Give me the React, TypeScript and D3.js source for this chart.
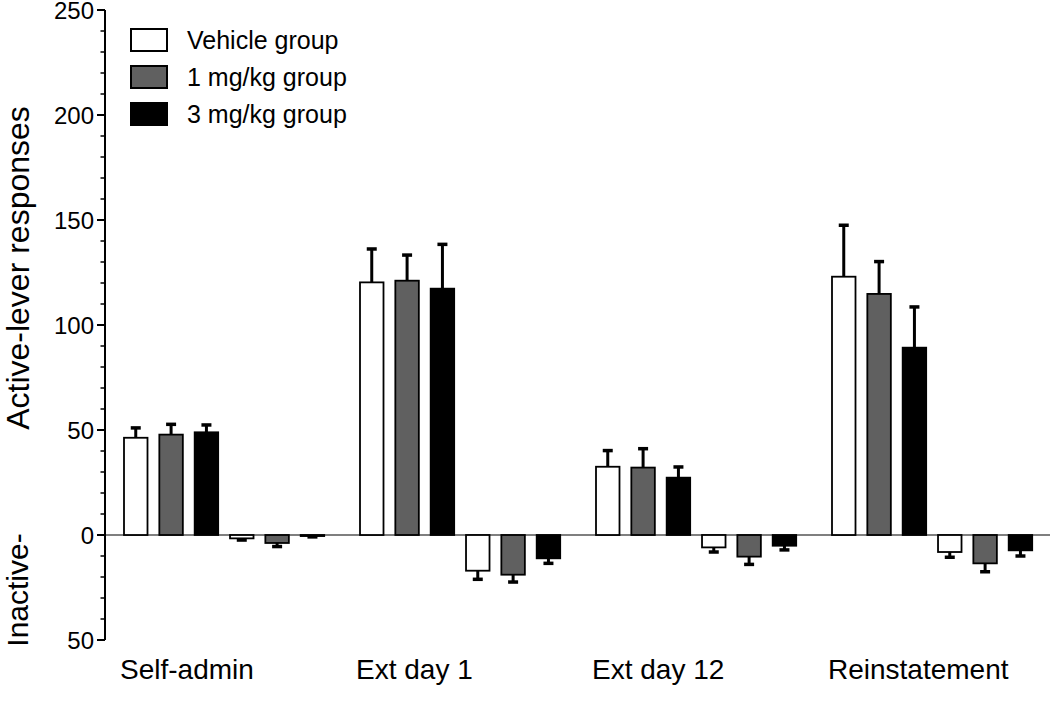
import React from "react";
import * as d3 from "d3";

const categories = ["Self-admin", "Ext day 1", "Ext day 12", "Reinstatement"];
const groupNames = ["Vehicle group", "1 mg/kg group", "3 mg/kg group"];
const groupFills = ["#ffffff", "#606060", "#000000"];

// Active-lever responses (mean, SEM)
const vehicleActive = [46.3, 120.3, 32.5, 123.0];
const vehicleActiveSem = [4.7, 15.9, 7.7, 24.5];
const mg1Active = [47.8, 121.1, 32.1, 114.8];
const mg1ActiveSem = [4.9, 12.2, 9.0, 15.4];
const mg3Active = [48.9, 117.3, 27.3, 89.2];
const mg3ActiveSem = [3.5, 21.1, 5.1, 19.4];

// Inactive-lever responses (mean, SEM) — plotted downward
const vehicleInactive = [1.6, 17.0, 5.9, 8.1];
const vehicleInactiveSem = [0.8, 4.1, 2.2, 2.5];
const mg1Inactive = [3.8, 18.9, 10.3, 13.5];
const mg1InactiveSem = [1.7, 3.5, 3.7, 4.0];
const mg3Inactive = [0.5, 11.1, 5.1, 7.3];
const mg3InactiveSem = [0.4, 2.4, 2.0, 2.7];

const majorTicks = [-50, 0, 50, 100, 150, 200, 250];
const tickLabels = ["50", "0", "50", "100", "150", "200", "250"];

const W = 1050;
const H = 715;
const FONT = "'Liberation Sans', Arial, Helvetica, sans-serif";

export default function App() {
  const y = d3.scaleLinear().domain([-50, 250]).range([640, 10]);
  const x = d3
    .scaleBand<string>()
    .domain(categories)
    .range([124, 1032.2])
    .paddingInner(0.1517)
    .paddingOuter(0);
  const inner = d3
    .scaleBand<number>()
    .domain([0, 1, 2, 3, 4, 5])
    .range([0, x.bandwidth()])
    .paddingInner(0.335)
    .paddingOuter(0);

  const activeVals = [vehicleActive, mg1Active, mg3Active];
  const activeSems = [vehicleActiveSem, mg1ActiveSem, mg3ActiveSem];
  const inactiveVals = [vehicleInactive, mg1Inactive, mg3Inactive];
  const inactiveSems = [vehicleInactiveSem, mg1InactiveSem, mg3InactiveSem];

  type Bar = { x: number; w: number; v: number; sem: number; fill: string; key: string };
  const bars: Bar[] = [];
  categories.forEach((c, ci) => {
    for (let g = 0; g < 3; g++) {
      bars.push({
        key: `a-${ci}-${g}`,
        x: (x(c) as number) + (inner(g) as number),
        w: inner.bandwidth(),
        v: activeVals[g][ci],
        sem: activeSems[g][ci],
        fill: groupFills[g],
      });
      bars.push({
        key: `i-${ci}-${g}`,
        x: (x(c) as number) + (inner(g + 3) as number),
        w: inner.bandwidth(),
        v: -inactiveVals[g][ci],
        sem: -inactiveSems[g][ci],
        fill: groupFills[g],
      });
    }
  });

  const minorTicks = d3.range(-50, 251, 10).filter((t) => t % 50 !== 0);
  const axisX = 105;
  const y0 = y(0);

  return (
    <svg
      width={W}
      height={H}
      style={{ position: "absolute", left: 0, top: 0, display: "block", background: "#fff" }}
      fontFamily={FONT}
    >
      {/* zero line */}
      <line x1={axisX} x2={W} y1={y0} y2={y0} stroke="#000" strokeWidth={1.2} />

      {/* bars */}
      {bars.map((b) => {
        const top = Math.min(y(b.v), y0);
        const h = Math.abs(y(b.v) - y0);
        const cx = b.x + b.w / 2;
        const end = y(b.v + b.sem);
        return (
          <g key={b.key}>
            <line x1={cx} x2={cx} y1={y(b.v)} y2={end} stroke="#000" strokeWidth={3} />
            <line x1={cx - 5} x2={cx + 5} y1={end} y2={end} stroke="#000" strokeWidth={3.5} />
            <rect x={b.x} y={top} width={b.w} height={h} fill={b.fill} stroke="#000" strokeWidth={1.8} />
          </g>
        );
      })}

      {/* y axis */}
      <line x1={axisX} x2={axisX} y1={y(250)} y2={y(-50)} stroke="#000" strokeWidth={2} />
      {majorTicks.map((t, i) => (
        <g key={`M${t}`}>
          <line x1={axisX - 8} x2={axisX} y1={y(t)} y2={y(t)} stroke="#000" strokeWidth={2} />
          <text x={axisX - 11} y={y(t) + 8.5} textAnchor="end" fontSize={24} fill="#000">
            {tickLabels[i]}
          </text>
        </g>
      ))}
      {minorTicks.map((t) => (
        <line key={`m${t}`} x1={axisX - 4.5} x2={axisX} y1={y(t)} y2={y(t)} stroke="#000" strokeWidth={1.5} />
      ))}

      {/* y axis labels */}
      <text transform="translate(29,268) rotate(-90)" textAnchor="middle" fontSize={32} fill="#000">
        Active-lever responses
      </text>
      <text transform="translate(28,590) rotate(-90)" textAnchor="middle" fontSize={30} fill="#000">
        Inactive-
      </text>

      {/* category labels */}
      {categories.map((c) => (
        <text key={c} x={(x(c) as number) - 4} y={679} textAnchor="start" fontSize={28} fill="#000">
          {c}
        </text>
      ))}

      {/* legend */}
      {groupNames.map((n, i) => (
        <g key={n} transform={`translate(131,${29 + i * 37})`}>
          <rect x={0} y={0} width={36} height={22} fill={groupFills[i]} stroke="#000" strokeWidth={2} />
          <text x={56} y={20} fontSize={25} fill="#000">
            {n}
          </text>
        </g>
      ))}
    </svg>
  );
}
